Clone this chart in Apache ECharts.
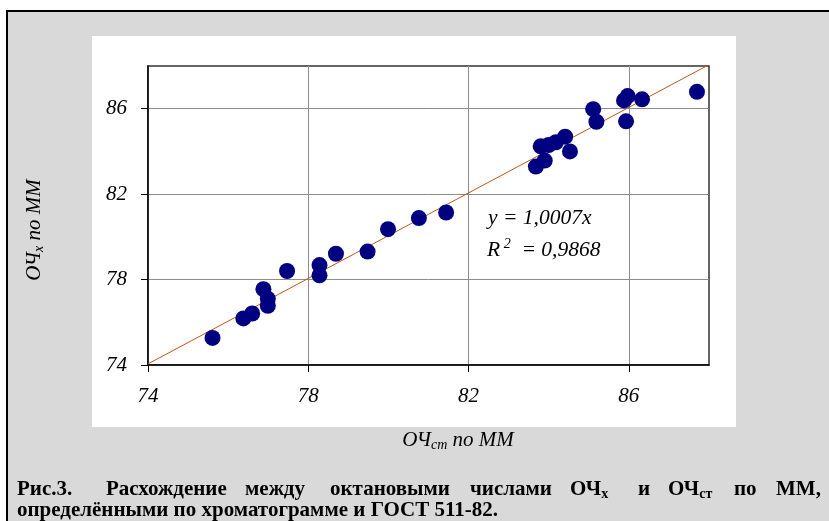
<!DOCTYPE html>
<html>
<head>
<meta charset="utf-8">
<script src="https://cdn.jsdelivr.net/npm/echarts@6/dist/echarts.min.js"></script>
<style>
html,body{margin:0;padding:0;background:#fff;}
#chart{width:829px;height:521px;}
</style>
</head>
<body>
<div id="chart"></div>
<script>
// ---- data ----
var xValues = [75.61, 76.38, 76.60, 76.88, 76.99, 76.99, 77.47, 78.28, 78.28, 78.69, 79.48, 79.99, 80.76, 81.44,
               83.68, 83.90, 83.80, 84.00, 84.18, 84.41, 84.53, 85.11, 85.19, 85.88, 85.97, 85.93, 86.33, 87.70];
var yValues = [75.27, 76.18, 76.41, 77.55, 77.10, 76.77, 78.40, 78.68, 78.20, 79.21, 79.31, 80.36, 80.88, 81.14,
               83.29, 83.57, 84.24, 84.30, 84.43, 84.69, 84.00, 85.98, 85.39, 86.39, 86.59, 85.41, 86.44, 86.79];
var xTicks = [74, 78, 82, 86];
var yTicks = [74, 78, 82, 86];
var axisMin = 74, axisMax = 88;
var trendSlope = 1.0007;
var trendLabel = '1,0007';
var r2Label = '0,9868';
var captionLine1 = ['Рис.3.', 'Расхождение', 'между', 'октановыми', 'числами', '{b|ОЧ}{bs|х}', 'и', '{b|ОЧ}{bs|ст}', 'по', 'ММ,'];
var captionLine2 = 'определёнными по хроматограмме и ГОСТ 511-82.';

// ---- build ----
var points = xValues.map(function (x, i) { return [x, yValues[i]]; });
var trend = [[axisMin, axisMin * trendSlope], [axisMax, axisMax * trendSlope]];

var serif = '"Liberation Serif", "Times New Roman", serif';
var cap1X = [17, 106, 245, 330, 470, 570, 638, 668, 734, 776];

var graphics = [
  { type: 'rect', z: -100, shape: { x: 7, y: 11, width: 900, height: 600 },
    style: { fill: '#d9d9d9', stroke: '#000', lineWidth: 2 } },
  { type: 'rect', z: -99, shape: { x: 92, y: 36, width: 644, height: 391 },
    style: { fill: '#fff' } },
  { type: 'text', x: 458, y: 440, style: {
      text: '{i|ОЧ}{s|ст}{i| по ММ}', align: 'center', verticalAlign: 'middle',
      rich: { i: { fontFamily: serif, fontStyle: 'italic', fontSize: 21, lineHeight: 24, fill: '#000' },
              s: { fontFamily: serif, fontStyle: 'italic', fontSize: 14, lineHeight: 14, verticalAlign: 'bottom', fill: '#000' } } } },
  { type: 'text', x: 34, y: 230, rotation: Math.PI / 2, style: {
      text: '{i|ОЧ}{s|x}{i| по ММ}', align: 'center', verticalAlign: 'middle',
      rich: { i: { fontFamily: serif, fontStyle: 'italic', fontSize: 21, lineHeight: 24, fill: '#000' },
              s: { fontFamily: serif, fontStyle: 'italic', fontSize: 14, lineHeight: 14, verticalAlign: 'bottom', fill: '#000' } } } },
  { type: 'text', x: 488, y: 218, style: {
      text: 'y = ' + trendLabel + 'x', align: 'left', verticalAlign: 'middle',
      font: 'italic 21.5px ' + serif, fill: '#000' } },
  { type: 'text', x: 487, y: 250, style: {
      text: '{i|R}{p| 2}{i|  = ' + r2Label + '}', align: 'left', verticalAlign: 'middle',
      rich: { i: { fontFamily: serif, fontStyle: 'italic', fontSize: 21.5, lineHeight: 26, fill: '#000' },
              p: { fontFamily: serif, fontStyle: 'italic', fontSize: 14, lineHeight: 14, verticalAlign: 'top', fill: '#000' } } } },
  { type: 'text', x: 17, y: 511, style: {
      text: captionLine2, align: 'left', verticalAlign: 'middle',
      font: 'bold 21px ' + serif, fill: '#000' } }
];
captionLine1.forEach(function (w, i) {
  graphics.push({ type: 'text', x: cap1X[i], y: 490, style: {
    text: w.indexOf('{') === 0 ? w : '{b|' + w + '}', align: 'left', verticalAlign: 'middle',
    rich: { b: { fontFamily: serif, fontWeight: 'bold', fontSize: 21, lineHeight: 22, fill: '#000' },
            bs: { fontFamily: serif, fontWeight: 'bold', fontSize: 14, lineHeight: 13, verticalAlign: 'bottom', fill: '#000' } } } });
});

var labelRich = { t: { fontFamily: serif, fontStyle: 'italic', fontSize: 21, color: '#000' } };
function tickFmt(v) { return '{t|' + v + '}'; }

var axisCommon = {
  type: 'value', min: axisMin, max: axisMax, interval: 4,
  axisLine: { show: true, onZero: false, lineStyle: { color: '#000', width: 1.5 } },
  axisTick: { show: true, inside: false, length: 7, lineStyle: { color: '#000', width: 1 } },
  splitLine: { show: true, lineStyle: { color: '#8c8c8c', width: 1 } },
  axisLabel: { fontFamily: serif, fontStyle: 'italic', fontSize: 21, color: '#000', formatter: tickFmt, rich: labelRich }
};

var option = {
  animation: false,
  backgroundColor: '#fff',
  grid: { left: 148, top: 66, right: 120, bottom: 156, show: true, borderColor: '#333', borderWidth: 1.5, backgroundColor: 'transparent' },
  xAxis: Object.assign({}, axisCommon, {
    axisTick: Object.assign({}, axisCommon.axisTick, { customValues: xTicks }),
    axisLabel: Object.assign({}, axisCommon.axisLabel, { customValues: xTicks, margin: 21 })
  }),
  yAxis: Object.assign({}, axisCommon, {
    axisTick: Object.assign({}, axisCommon.axisTick, { customValues: yTicks }),
    axisLabel: Object.assign({}, axisCommon.axisLabel, { customValues: yTicks, margin: 21 })
  }),
  graphic: graphics,
  series: [
    { type: 'line', data: trend, symbol: 'none', z: 3, silent: true,
      lineStyle: { color: '#c0561a', width: 1 } },
    { type: 'scatter', data: points, symbol: 'circle', symbolSize: 16, z: 4,
      itemStyle: { color: '#000080', opacity: 1 } }
  ]
};

var chart = echarts.init(document.getElementById('chart'), null, { renderer: 'canvas' });
chart.setOption(option);
</script>
</body>
</html>
